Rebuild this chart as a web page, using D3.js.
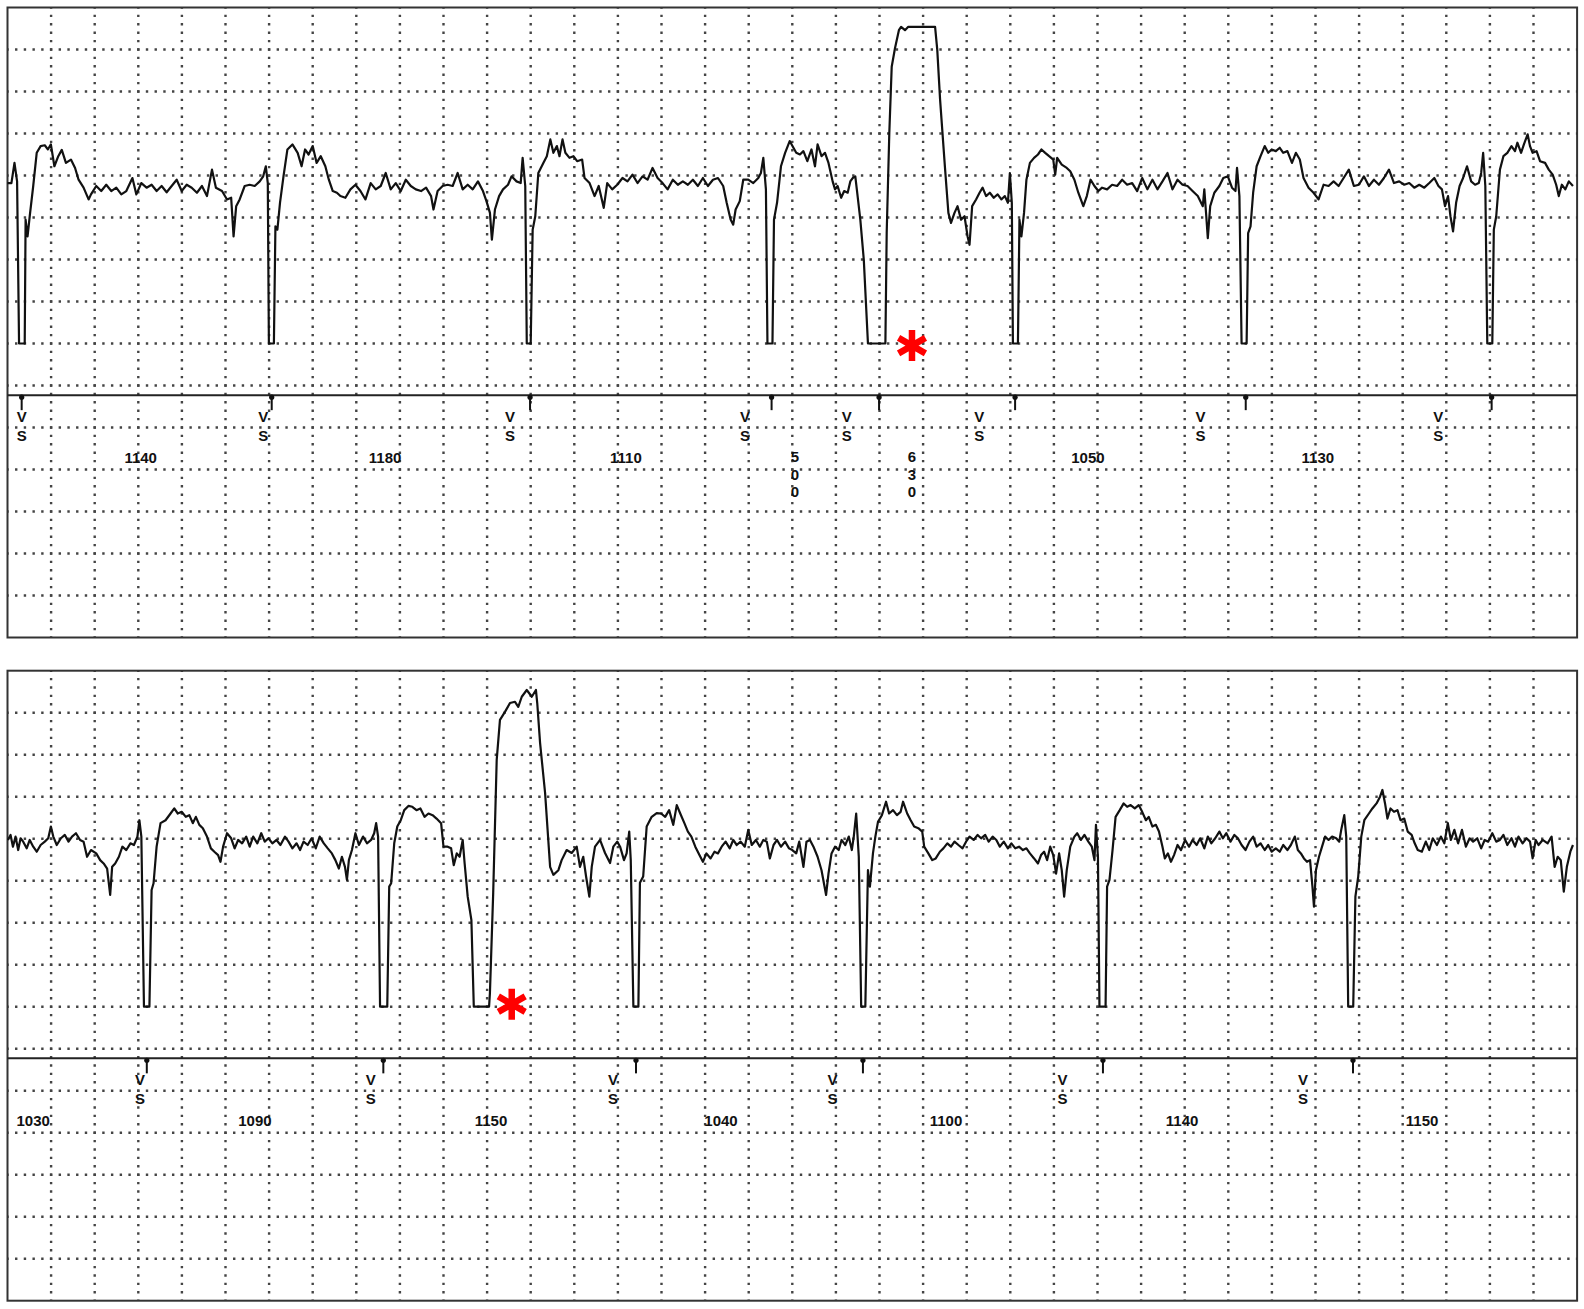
<!DOCTYPE html>
<html>
<head>
<meta charset="utf-8">
<script src="https://cdn.jsdelivr.net/npm/d3@7"></script>
<style>
  body { margin: 0; background: #fff; }
  text { font-family: "Liberation Sans", Arial, sans-serif; font-weight: bold; fill: #111; }
</style>
</head>
<body>
<div id="main"></div>
<script>
// ---- data (time in ms, amplitude in grid rows) ----
const topTrace = [[0,-0.18],[18,-0.18],[32,0.30],[44,-0.14],[53,-4],[79,-4],[83,-1.05],[92,-1.45],[102,-0.97],[118,-0.25],[134,0.54],[152,0.70],[171,0.72],[185,0.62],[199,0.74],[215,0.22],[233,0.46],[249,0.61],[268,0.30],[291,0.38],[310,0.18],[326,-0.10],[349,-0.29],[372,-0.57],[383,-0.45],[407,-0.25],[430,-0.37],[453,-0.22],[476,-0.37],[499,-0.29],[522,-0.45],[545,-0.37],[573,-0.06],[591,-0.45],[614,-0.18],[638,-0.29],[661,-0.22],[684,-0.37],[707,-0.25],[730,-0.40],[753,-0.25],[776,-0.10],[799,-0.37],[822,-0.22],[845,-0.29],[869,-0.41],[892,-0.25],[915,-0.49],[938,0.14],[956,-0.29],[984,-0.37],[1007,-0.57],[1026,-0.53],[1037,-1.45],[1049,-0.73],[1065,-0.57],[1088,-0.25],[1111,-0.22],[1134,-0.25],[1157,-0.14],[1173,-0.02],[1185,0.22],[1194,-0.18],[1199,-4],[1222,-4],[1229,-1.21],[1238,-1.29],[1250,-0.65],[1266,-0.02],[1284,0.62],[1307,0.74],[1331,0.54],[1349,0.22],[1365,0.62],[1381,0.50],[1400,0.70],[1418,0.30],[1437,0.46],[1458,0.22],[1474,-0.10],[1492,-0.37],[1511,-0.41],[1527,-0.49],[1550,-0.53],[1573,-0.33],[1596,-0.22],[1619,-0.37],[1642,-0.57],[1666,-0.18],[1689,-0.33],[1712,-0.25],[1735,0.06],[1758,-0.33],[1781,-0.18],[1804,-0.37],[1827,-0.10],[1850,-0.25],[1873,-0.33],[1897,-0.37],[1920,-0.29],[1943,-0.49],[1954,-0.81],[1973,-0.37],[1996,-0.25],[2019,-0.22],[2042,-0.25],[2065,0.06],[2088,-0.33],[2111,-0.22],[2134,-0.33],[2158,-0.14],[2181,-0.37],[2197,-0.61],[2213,-0.89],[2222,-1.53],[2236,-0.81],[2255,-0.49],[2273,-0.33],[2296,-0.22],[2312,-0.02],[2335,-0.14],[2354,-0.18],[2363,0.42],[2375,-0.25],[2382,-4],[2400,-4],[2409,-1.29],[2421,-0.97],[2435,0.06],[2458,0.30],[2474,0.46],[2490,0.86],[2504,0.54],[2520,0.70],[2532,0.46],[2546,0.86],[2559,0.54],[2578,0.42],[2596,0.46],[2613,0.34],[2636,0.38],[2647,-0.06],[2670,-0.18],[2693,-0.49],[2712,-0.25],[2735,-0.77],[2751,-0.18],[2774,-0.33],[2797,-0.22],[2821,-0.06],[2844,-0.14],[2867,0.02],[2890,-0.18],[2913,-0.02],[2936,-0.10],[2959,0.18],[2982,-0.06],[3005,-0.18],[3028,-0.33],[3052,-0.10],[3075,-0.22],[3098,-0.14],[3121,-0.22],[3144,-0.10],[3167,-0.25],[3190,-0.06],[3213,-0.25],[3236,-0.10],[3259,-0.06],[3283,-0.25],[3299,-0.65],[3317,-1.05],[3329,-1.17],[3340,-0.81],[3359,-0.61],[3375,-0.10],[3398,-0.10],[3421,-0.18],[3444,-0.06],[3456,0.06],[3467,0.42],[3479,-0.33],[3486,-4],[3509,-4],[3516,-1.05],[3530,-0.65],[3548,0.22],[3567,0.54],[3588,0.82],
  [3618,0.54],[3635,0.50],[3651,0.58],[3669,0.34],[3688,0.62],[3704,0.22],[3716,0.74],[3734,0.46],[3750,0.54],[3766,0.30],[3785,-0.14],[3796,-0.33],[3808,-0.25],[3824,-0.53],[3838,-0.37],[3854,-0.41],[3866,-0.14],[3877,-0.06],[3889,-0.02],[3896,-0.33],[3912,-1.05],[3928,-2.01],[3947,-4],[4027,-4],[4033,-1.37],[4045,1.01],[4056,2.59],[4071,3.03],[4089,3.46],[4099,3.54],[4117,3.46],[4132,3.54],[4255,3.54],[4265,2.99],[4278,1.80],[4300,0.21],[4316,-0.89],[4328,-1.13],[4344,-0.89],[4358,-0.73],[4374,-1.05],[4390,-0.97],[4404,-1.45],[4413,-1.65],[4425,-0.73],[4443,-0.57],[4459,-0.41],[4473,-0.29],[4489,-0.49],[4506,-0.41],[4524,-0.53],[4542,-0.45],[4559,-0.57],[4575,-0.49],[4589,-0.65],[4598,0.06],[4607,-0.65],[4612,-4],[4635,-4],[4642,-1.05],[4651,-1.45],[4663,-0.89],[4674,-0.10],[4690,0.30],[4709,0.42],[4727,0.50],[4743,0.62],[4760,0.54],[4778,0.46],[4797,0.38],[4806,0.02],[4815,0.42],[4836,0.26],[4859,0.18],[4875,0.10],[4894,-0.10],[4912,-0.41],[4935,-0.73],[4951,-0.49],[4968,-0.10],[4986,-0.25],[5004,-0.37],[5021,-0.29],[5044,-0.33],[5067,-0.22],[5090,-0.25],[5113,-0.10],[5136,-0.22],[5159,-0.18],[5182,-0.37],[5205,-0.06],[5229,-0.33],[5252,-0.10],[5275,-0.33],[5298,-0.14],[5321,0.06],[5344,-0.33],[5367,-0.10],[5390,-0.22],[5413,-0.25],[5436,-0.37],[5460,-0.49],[5483,-0.73],[5490,-0.33],[5499,-0.97],[5506,-1.49],[5517,-0.73],[5536,-0.41],[5559,-0.25],[5577,-0.06],[5598,-0.02],[5617,-0.29],[5633,-0.37],[5640,0.18],[5651,-0.49],[5661,-4],[5684,-4],[5691,-1.37],[5702,-1.21],[5714,-0.41],[5730,0.22],[5748,0.46],[5767,0.70],[5783,0.54],[5799,0.62],[5818,0.58],[5836,0.66],[5852,0.54],[5871,0.58],[5892,0.30],[5910,0.54],[5928,0.38],[5945,-0.06],[5968,-0.29],[5991,-0.41],[6014,-0.57],[6037,-0.22],[6060,-0.25],[6083,-0.14],[6106,-0.25],[6129,-0.06],[6153,0.14],[6176,-0.25],[6199,-0.22],[6222,-0.02],[6245,-0.25],[6268,-0.10],[6291,-0.22],[6314,-0.06],[6337,0.14],[6360,-0.18],[6384,-0.14],[6407,-0.22],[6430,-0.18],[6453,-0.29],[6476,-0.22],[6499,-0.29],[6522,-0.18],[6545,-0.06],[6564,-0.25],[6580,-0.33],[6594,-0.73],[6608,-0.49],[6619,-0.97],[6631,-1.33],[6645,-0.65],[6661,-0.25],[6677,-0.06],[6695,0.22],[6714,-0.14],[6732,-0.22],[6749,-0.18],[6760,0.06],[6769,0.54],[6779,-0.25],[6788,-4],[6811,-4],[6818,-1.29],[6829,-0.97],[6846,0.14],[6862,0.46],[6880,0.54],[6899,0.70],[6915,0.58],[6926,0.78],[6943,0.54],[6956,0.74],[6973,0.98],[6984,0.70],[6996,0.54],[7014,0.58],[7030,0.34],[7053,0.30],[7070,0.14],[7088,0.02],[7104,-0.22],[7116,-0.49],[7130,-0.22],[7146,-0.33],[7162,-0.14],[7181,-0.25]];

const bottomTrace = [[2,-0.03],[14,0.09],[25,-0.19],[37,0.05],[49,-0.27],[60,0.01],[72,-0.07],[88,-0.23],[102,-0.03],[118,-0.19],[134,-0.31],[152,-0.15],[171,-0.07],[187,0.01],[199,0.29],[210,0.05],[226,-0.15],[245,0.01],[263,0.09],[280,-0.07],[296,0.05],[314,0.13],[333,-0.03],[349,-0.07],[365,-0.43],[383,-0.27],[407,-0.35],[425,-0.51],[441,-0.59],[457,-0.71],[471,-1.34],[480,-0.67],[494,-0.59],[511,-0.43],[527,-0.19],[545,-0.27],[564,-0.11],[580,-0.15],[596,0.05],[605,0.44],[614,0.05],[626,-4],[651,-4],[661,-1.22],[670,-1.06],[684,-0.19],[702,0.37],[725,0.44],[748,0.60],[765,0.72],[781,0.60],[799,0.64],[818,0.52],[834,0.56],[850,0.37],[864,0.52],[880,0.33],[896,0.25],[915,0.05],[933,-0.23],[949,-0.31],[966,-0.39],[977,-0.55],[989,-0.19],[1007,0.13],[1026,0.01],[1042,-0.23],[1058,-0.03],[1076,-0.11],[1095,0.05],[1111,-0.19],[1127,0.05],[1146,-0.11],[1164,0.13],[1180,-0.07],[1197,0.01],[1215,-0.11],[1234,-0.03],[1252,-0.15],[1273,0.05],[1289,-0.07],[1307,-0.23],[1326,-0.11],[1342,-0.27],[1358,-0.07],[1377,-0.15],[1395,0.01],[1414,-0.23],[1432,0.05],[1451,-0.11],[1469,-0.23],[1488,-0.35],[1504,-0.51],[1520,-0.71],[1534,-0.43],[1548,-0.67],[1557,-0.98],[1566,-0.51],[1580,-0.27],[1596,0.13],[1612,-0.15],[1631,0.05],[1649,-0.11],[1668,-0.03],[1682,0.13],[1691,0.37],[1700,0.05],[1709,-4],[1742,-4],[1751,-1.14],[1760,-1.06],[1774,-0.11],[1788,0.29],[1804,0.44],[1820,0.68],[1839,0.78],[1857,0.76],[1876,0.68],[1894,0.72],[1913,0.52],[1931,0.60],[1950,0.56],[1968,0.48],[1989,0.37],[2000,-0.19],[2019,-0.19],[2035,-0.23],[2047,-0.63],[2061,-0.35],[2074,-0.43],[2088,-0.03],[2097,-0.59],[2111,-1.38],[2128,-1.94],[2139,-4],[2209,-4],
  [2213,-3.67],[2228,-1.29],[2244,1.87],[2259,2.83],[2282,3.02],[2305,3.23],[2328,3.26],[2343,3.14],[2359,3.38],[2382,3.54],[2405,3.38],[2424,3.54],[2430,3.23],[2443,2.28],[2466,1.09],[2489,-0.67],[2504,-0.86],[2527,-0.75],[2542,-0.51],[2565,-0.27],[2588,-0.34],[2611,-0.19],[2626,-0.67],[2641,-0.43],[2654,-0.90],[2669,-1.38],[2680,-0.67],[2695,-0.19],[2718,-0.03],[2741,-0.34],[2764,-0.58],[2779,-0.19],[2797,-0.07],[2810,-0.19],[2828,-0.51],[2840,-0.35],[2852,0.17],[2859,-0.51],[2871,-4],[2894,-4],[2901,-1.05],[2916,-0.90],[2932,0.29],[2955,0.52],[2978,0.61],[2998,0.60],[3017,0.52],[3035,0.68],[3054,0.33],[3070,0.80],[3086,0.60],[3105,0.37],[3121,0.17],[3137,0.05],[3155,-0.19],[3174,-0.39],[3190,-0.55],[3206,-0.35],[3225,-0.47],[3243,-0.31],[3259,-0.35],[3276,-0.19],[3294,-0.07],[3313,-0.23],[3329,-0.03],[3345,-0.15],[3363,-0.07],[3382,-0.19],[3398,0.21],[3414,-0.15],[3433,-0.03],[3451,-0.19],[3467,-0.03],[3483,-0.07],[3497,-0.47],[3514,-0.15],[3530,-0.03],[3548,-0.19],[3567,-0.07],[3585,-0.23],
  [3600,-0.27],[3618,-0.35],[3632,-0.07],[3651,-0.67],[3665,-0.07],[3681,-0.03],[3697,-0.19],[3716,-0.43],[3734,-0.75],[3755,-1.34],[3766,-0.83],[3780,-0.35],[3796,-0.19],[3813,-0.27],[3826,-0.03],[3843,-0.15],[3859,0.05],[3873,-0.27],[3882,0.05],[3893,0.60],[3905,-0.43],[3916,-4],[3935,-4],[3947,-0.75],[3956,-1.14],[3970,-0.35],[3981,0.05],[3993,0.40],[4011,0.56],[4030,0.88],[4044,0.60],[4062,0.68],[4080,0.56],[4097,0.64],[4108,0.88],[4127,0.60],[4143,0.44],[4159,0.29],[4178,0.25],[4196,0.17],[4205,-0.19],[4224,-0.35],[4242,-0.51],[4258,-0.47],[4277,-0.31],[4293,-0.23],[4311,-0.11],[4328,-0.19],[4344,-0.07],[4362,-0.15],[4381,-0.23],[4397,-0.07],[4413,0.05],[4432,-0.03],[4450,0.09],[4466,0.01],[4485,0.09],[4501,-0.07],[4519,0.05],[4536,-0.03],[4552,-0.19],[4570,-0.07],[4589,-0.23],[4605,-0.11],[4623,-0.23],[4640,-0.19],[4658,-0.27],[4674,-0.23],[4690,-0.35],[4709,-0.47],[4727,-0.59],[4741,-0.39],[4755,-0.31],[4769,-0.51],[4783,-0.19],[4797,-0.39],[4810,-0.83],[4824,-0.35],[4836,-0.75],[4847,-1.38],[4859,-0.75],[4875,-0.19],[4894,0.05],[4907,0.13],[4924,-0.03],[4940,0.09],[4958,-0.07],[4974,-0.19],[4986,-0.51],[4993,0.33],[5002,-0.43],[5009,-4],[5037,-4],[5044,-1.14],[5055,-0.98],[5069,-0.27],[5083,0.52],[5102,0.68],[5120,0.84],[5136,0.76],[5152,0.80],[5171,0.72],[5189,0.80],[5205,0.64],[5222,0.44],[5235,0.52],[5252,0.29],[5268,0.33],[5282,0.17],[5298,-0.19],[5309,-0.47],[5323,-0.35],[5337,-0.55],[5351,-0.39],[5367,-0.15],[5383,-0.27],[5402,-0.03],[5420,-0.19],[5436,-0.03],[5455,-0.15],[5471,0.01],[5490,-0.23],[5506,0.05],[5522,-0.11],[5540,0.01],[5559,0.17],[5575,0.01],[5591,0.13],[5610,-0.07],[5628,0.09],[5644,0.01],[5661,-0.15],[5679,-0.27],[5697,-0.07],[5714,0.05],[5730,-0.19],[5748,-0.11],[5767,-0.27],[5783,-0.15],[5799,-0.31],[5818,-0.23],[5836,-0.31],[5852,-0.15],[5871,-0.27],[5887,-0.15],[5905,0.05],[5919,-0.27],[5933,-0.35],[5947,-0.47],[5961,-0.55],[5975,-0.51],[5986,-1.14],[5993,-1.62],[6002,-0.75],[6016,-0.43],[6030,-0.19],[6044,0.05],[6060,-0.03],[6076,0.05],[6095,0.01],[6109,-0.07],[6118,0.21],[6132,0.56],[6141,0.05],[6150,-4],[6173,-4],[6183,-1.38],[6196,-0.90],[6210,0.05],[6224,0.44],[6245,0.60],[6261,0.72],[6280,0.84],[6296,1.00],[6307,1.16],[6319,0.84],[6330,0.48],[6344,0.72],[6360,0.64],[6376,0.68],[6390,0.44],[6407,0.48],[6423,0.17],[6441,0.09],[6455,-0.11],[6469,-0.27],[6488,-0.31],[6506,-0.07],[6522,-0.27],[6538,0.01],[6557,-0.15],[6575,0.05],[6591,-0.11],[6607,0.37],[6621,-0.03],[6637,0.21],[6654,-0.11],[6672,0.21],[6690,-0.19],[6707,0.01],[6723,-0.07],[6742,0.01],[6760,-0.23],[6776,-0.03],[6792,-0.07],[6811,0.13],[6829,-0.07],[6846,-0.03],[6862,0.09],[6880,-0.15],[6899,0.01],[6915,-0.19],[6931,0.05],[6950,-0.11],[6968,0.01],[6984,-0.07],[6996,-0.47],[7010,-0.03],[7023,-0.15],[7042,-0.03],[7065,-0.11],[7083,0.05],[7097,-0.67],[7111,-0.43],[7125,-0.51],[7139,-1.26],[7153,-0.67],[7169,-0.31],[7181,-0.15]];

// marker channel: pace/sense pins, "V S" annotations and R-R intervals (ms)
const topPins = [65, 1212, 2397, 3505, 3998, 4622, 5680, 6808];
const topSense = [65, 1173, 2305, 3383, 3850, 4458, 5473, 6563];
const topIntervalAt = [611, 1732, 2837, 3612, 4149, 4956, 6011];
const topIntervals = [1140, 1180, 1110, 500, 630, 1050, 1130];

const bottomPins = [639, 1724, 2883, 3924, 5025, 6172];
const bottomSense = [608, 1666, 2777, 3784, 4840, 5943];
const bottomIntervalAt = [118, 1135, 2218, 3273, 4305, 5388, 6489];
const bottomIntervals = [1030, 1090, 1150, 1040, 1100, 1140, 1150];

// premature beats flagged with a red asterisk [ms, rows]
const topStar = [4149, -4.05];
const bottomStar = [2313, -3.94];

function main() {
  const svgWidth = 1584;
  const svgHeight = 1309;
  const stripMs = 7200;     // 36 big boxes of 200 ms
  const rowsTop = 4, rowsBottom = -11; // 15 rows of amplitude
  const separatorAt = -5.23;

  var svg = d3.select("#main")
    .append("svg")
    .attr("width", svgWidth)
    .attr("height", svgHeight)
    .style("display", "block");

  var x = d3.scaleLinear().domain([0, stripMs]).range([7.5, 1577.1]);

  drawStrip(7.5, topTrace, topPins, topSense, topIntervalAt, topIntervals, topStar);
  drawStrip(670.7, bottomTrace, bottomPins, bottomSense, bottomIntervalAt, bottomIntervals, bottomStar);

  function drawStrip(top, trace, pins, sense, intervalAt, intervals, star) {
    var y = d3.scaleLinear().domain([rowsTop, rowsBottom]).range([top, top + 630]);
    var g = svg.append("g");

    // dotted grid
    g.selectAll(".vgrid")
      .data(d3.range(200, stripMs, 200))
      .join("line")
      .attr("x1", d => x(d)).attr("x2", d => x(d))
      .attr("y1", y(rowsTop)).attr("y2", y(rowsBottom))
      .attr("stroke", "#444")
      .attr("stroke-width", 2.4)
      .attr("stroke-dasharray", "2.4,6")
      .attr("stroke-dashoffset", 1.2);

    g.selectAll(".hgrid")
      .data(d3.range(rowsTop - 1, rowsBottom, -1))
      .join("line")
      .attr("x1", x(0)).attr("x2", x(stripMs))
      .attr("y1", d => y(d)).attr("y2", d => y(d))
      .attr("stroke", "#444")
      .attr("stroke-width", 2.4)
      .attr("stroke-dasharray", "2.4,6.32")
      .attr("stroke-dashoffset", 1.2);

    // frame + separator between ECG and marker channel
    g.append("rect")
      .attr("x", x(0)).attr("y", y(rowsTop))
      .attr("width", x(stripMs) - x(0))
      .attr("height", y(rowsBottom) - y(rowsTop))
      .attr("fill", "none")
      .attr("stroke", "#333")
      .attr("stroke-width", 2);

    var sepY = y(separatorAt);
    g.append("line")
      .attr("x1", x(0)).attr("x2", x(stripMs))
      .attr("y1", sepY).attr("y2", sepY)
      .attr("stroke", "#222")
      .attr("stroke-width", 2);

    // ECG trace
    var line = d3.line().x(d => x(d[0])).y(d => y(d[1]));
    g.append("path")
      .datum(trace)
      .attr("d", line)
      .attr("fill", "none")
      .attr("stroke", "#111")
      .attr("stroke-width", 2.2)
      .attr("stroke-linejoin", "round");

    // marker pins
    g.selectAll(".pinLine")
      .data(pins)
      .join("line")
      .attr("x1", d => x(d)).attr("x2", d => x(d))
      .attr("y1", sepY).attr("y2", sepY + 15)
      .attr("stroke", "#111")
      .attr("stroke-width", 2);
    g.selectAll(".pinDot")
      .data(pins)
      .join("circle")
      .attr("cx", d => x(d)).attr("cy", sepY + 2)
      .attr("r", 2.6)
      .attr("fill", "#111");

    // V S labels
    g.selectAll(".vLabel")
      .data(sense)
      .join("text")
      .attr("x", d => x(d)).attr("y", sepY + 27)
      .attr("text-anchor", "middle")
      .attr("font-size", 15)
      .text("V");
    g.selectAll(".sLabel")
      .data(sense)
      .join("text")
      .attr("x", d => x(d)).attr("y", sepY + 46)
      .attr("text-anchor", "middle")
      .attr("font-size", 15)
      .text("S");

    // intervals: short ones are written vertically
    intervals.forEach(function (v, i) {
      var t = g.append("text")
        .attr("x", x(intervalAt[i]))
        .attr("y", sepY + 68)
        .attr("text-anchor", "middle")
        .attr("font-size", 15);
      if (v < 800) {
        String(v).split("").forEach(function (c, k) {
          t.append("tspan")
            .attr("x", x(intervalAt[i]))
            .attr("y", sepY + 67 + k * 17.5)
            .attr("font-size", 15)
            .text(c);
        });
      } else {
        t.text(v);
      }
    });

    // red asterisk
    var cx = x(star[0]), cy = y(star[1]), r = 15.5;
    var arms = [90, 30, 150].map(function (a) {
      var rad = a * Math.PI / 180;
      return "M" + (cx - r * Math.cos(rad)) + "," + (cy - r * Math.sin(rad)) +
        "L" + (cx + r * Math.cos(rad)) + "," + (cy + r * Math.sin(rad));
    }).join("");
    g.append("path")
      .attr("d", arms)
      .attr("stroke", "#f00")
      .attr("stroke-width", 6.5)
      .attr("fill", "none");
  }
}

main();
</script>
</body>
</html>
